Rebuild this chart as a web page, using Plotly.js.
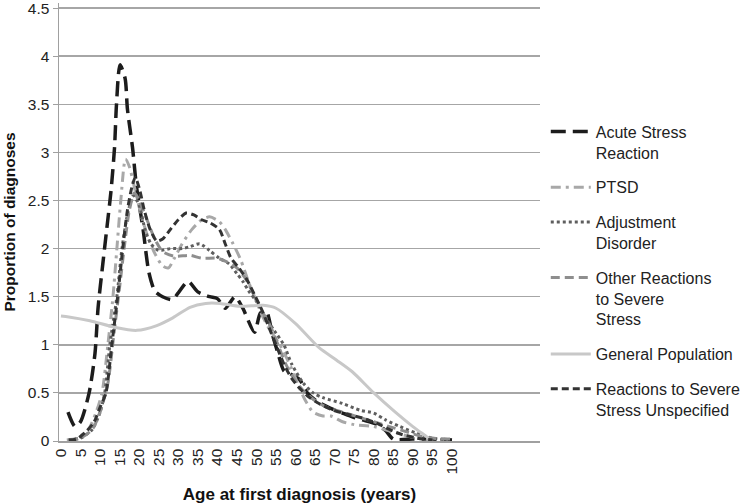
<!DOCTYPE html>
<html>
<head>
<meta charset="utf-8">
<script src="https://cdn.plot.ly/plotly-3.0.1.min.js"></script>
<style>
  html, body { margin: 0; padding: 0; background: #fff; }
  #chart { width: 750px; height: 504px; }
</style>
</head>
<body>
<div id="chart"></div>
<script>
// Age at first diagnosis (years) and proportion of diagnoses

const acuteAge = [1.8, 3.6, 5, 7.2, 8.7, 9.5, 10.7, 11.7, 12.8, 13.7, 14.2, 15.1, 16.4, 17, 18.3, 19.3, 21, 22.5, 24, 26, 28.5, 30, 32.5, 35, 38, 40, 42, 44.5, 46.5, 49.5, 51, 52.5, 54, 55.5, 57, 58.5, 61, 63, 65.5, 69, 72, 74.5, 77, 81, 83, 85, 90, 95, 100];
const acuteVal = [0.3, 0.15, 0.2, 0.5, 0.91, 1.39, 1.84, 2.2, 2.6, 3.05, 3.5, 3.91, 3.77, 3.45, 3.05, 2.65, 2.2, 1.75, 1.56, 1.5, 1.47, 1.54, 1.66, 1.55, 1.5, 1.48, 1.38, 1.5, 1.38, 1.13, 1.33, 1.35, 1.12, 0.91, 0.73, 0.7, 0.64, 0.5, 0.41, 0.34, 0.29, 0.25, 0.22, 0.17, 0.11, 0.02, 0.02, 0.02, 0.01];

const ptsdAge = [1.5, 4, 7, 9, 10.5, 12, 13.3, 14.3, 15.3, 16.5, 17.5, 19, 20.5, 22, 24, 26, 27.5, 29, 31, 33.5, 36, 38, 40.5, 42, 44, 46, 48, 50, 51.5, 53.5, 56, 59, 61, 62.5, 64.5, 67, 69, 72, 75, 80, 86, 91, 95];
const ptsdVal = [0.01, 0.03, 0.12, 0.3, 0.5, 1.0, 1.5, 2.0, 2.5, 2.93, 2.85, 2.6, 2.35, 2.15, 1.95, 1.82, 1.8, 1.9, 2.05, 2.2, 2.3, 2.33, 2.28, 2.2, 2.05, 1.88, 1.65, 1.45, 1.3, 1.15, 1.0, 0.75, 0.55, 0.42, 0.3, 0.26, 0.26, 0.2, 0.17, 0.15, 0.08, 0.03, 0.01];

const adjustAge = [2, 5, 8, 10, 11.2, 12.5, 14.3, 15.6, 17, 18.5, 20, 21.5, 23, 25, 28, 31, 33, 35.5, 38, 40.5, 43, 45, 46.5, 48, 50, 52, 54.5, 57, 59, 62, 64.5, 67, 72, 76.5, 80, 83, 86.7, 91, 95, 99];
const adjustVal = [0.01, 0.03, 0.12, 0.3, 0.5, 1.0, 1.5, 2.0, 2.35, 2.55, 2.45, 2.2, 2.05, 1.98, 2.0, 2.0, 2.02, 2.05, 1.98, 1.9, 1.84, 1.74, 1.66, 1.56, 1.45, 1.3, 1.15, 1.0, 0.8, 0.6, 0.5, 0.45, 0.39, 0.32, 0.29, 0.22, 0.15, 0.08, 0.03, 0.01];

const otherAge = [2, 5, 8, 10, 12, 13.5, 15, 16.3, 17.5, 18.8, 20, 22, 24, 26, 29, 33, 36, 40, 42, 45, 47, 49, 51, 53.5, 55.5, 57.5, 60, 62.5, 65, 68, 72, 76, 80, 84, 88, 92, 95, 100];
const otherVal = [0.01, 0.03, 0.12, 0.3, 0.6, 1.1, 1.6, 2.05, 2.4, 2.58, 2.5, 2.3, 2.1, 1.97, 1.92, 1.93, 1.9, 1.9, 1.87, 1.8, 1.7, 1.55, 1.38, 1.2, 1.0, 0.8, 0.62, 0.5, 0.42, 0.35, 0.3, 0.25, 0.2, 0.15, 0.1, 0.05, 0.03, 0.02];

const generalAge = [0, 2, 7.4, 14, 19.4, 24.5, 28.6, 33, 37, 40.7, 45.8, 51.7, 55, 60, 66, 70.5, 74.5, 80, 85.5, 90, 93, 94];
const generalVal = [1.3, 1.29, 1.25, 1.18, 1.15, 1.2, 1.28, 1.39, 1.43, 1.43, 1.4, 1.41, 1.38, 1.22, 0.97, 0.84, 0.72, 0.5, 0.3, 0.15, 0.06, 0.03];

const unspecAge = [2, 4, 6.5, 8.5, 10, 11.5, 13, 14.5, 15.8, 17, 18.2, 19, 20.2, 21.3, 22.8, 24.5, 26, 28, 30, 32, 34, 36, 38, 40.5, 42, 43.5, 45.5, 47.5, 49.5, 51.5, 53.5, 55.5, 57, 59, 61, 63, 65.5, 69, 73, 77, 81, 84, 87, 91, 95];
const unspecVal = [0.01, 0.02, 0.1, 0.2, 0.35, 0.5, 1.0, 1.5, 2.0, 2.4, 2.65, 2.74, 2.6, 2.4, 2.2, 2.08, 2.1, 2.2, 2.3, 2.37, 2.35, 2.3, 2.27, 2.2, 2.05, 1.9, 1.8, 1.68, 1.52, 1.35, 1.15, 0.95, 0.8, 0.65, 0.55, 0.47, 0.4, 0.33, 0.28, 0.24, 0.18, 0.12, 0.07, 0.03, 0.01];

const xTicks = [0, 5, 10, 15, 20, 25, 30, 35, 40, 45, 50, 55, 60, 65, 70, 75, 80, 85, 90, 95, 100];
const yTicks = [0, 0.5, 1, 1.5, 2, 2.5, 3, 3.5, 4, 4.5];

const FONT = '"Liberation Sans", Arial, sans-serif';

function series(name, x, y, color, dash, width) {
    return {
        type: 'scatter',
        mode: 'lines',
        name,
        x,
        y,
        line: { color, dash, width, shape: 'spline', smoothing: 0.7 },
        legendgroup: name,
        hoverinfo: 'skip'
    };
}

const traces = [
    series('Acute Stress<br>Reaction', acuteAge, acuteVal, '#1c1c1c', '15px,7px', 3.5),
    series('PTSD', ptsdAge, ptsdVal, '#a8a8a8', '10px,5px,3px,5px', 3),
    series('Adjustment<br>Disorder', adjustAge, adjustVal, '#5e5e5e', '3px,3px', 3),
    series('Other Reactions<br>to Severe<br>Stress', otherAge, otherVal, '#8e8e8e', '9px,5px', 3),
    series('General Population', generalAge, generalVal, '#c8c8c8', 'solid', 3),
    series('Reactions to Severe<br>Stress Unspecified', unspecAge, unspecVal, '#333333', '7px,4px', 3)
];

const layout = {
    width: 750,
    height: 504,
    paper_bgcolor: '#fff',
    plot_bgcolor: '#fff',
    font: { family: FONT, size: 15, color: '#222' },
    margin: { l: 59, r: 210, t: 3, b: 63 },
    showlegend: true,
    legend: {
        x: 1.012,
        xanchor: 'left',
        y: 0.745,
        yanchor: 'top',
        valign: 'top',
        itemwidth: 40,
        tracegroupgap: 11,
        font: { family: FONT, size: 16, color: '#222' },
        bgcolor: 'rgba(0,0,0,0)'
    },
    xaxis: {
        range: [-0.5, 122.5],
        tickmode: 'array',
        tickvals: xTicks,
        ticktext: xTicks.map(String),
        tickangle: -90,
        tickfont: { family: FONT, size: 15.5, color: '#222' },
        showgrid: false,
        zeroline: false,
        showline: true,
        linecolor: '#a0a0a0',
        linewidth: 1.5,
        ticks: '',
        title: { text: '<b>Age at first diagnosis (years)</b>', font: { family: FONT, size: 17, color: '#111' }, standoff: 14 }
    },
    yaxis: {
        range: [0, 4.553],
        tickmode: 'array',
        tickvals: yTicks,
        ticktext: yTicks.map(String),
        ticklabeloverflow: 'allow',
        showgrid: true,
        gridcolor: '#a6a6a6',
        gridwidth: 1.5,
        zeroline: false,
        showline: true,
        linecolor: '#a0a0a0',
        linewidth: 1.5,
        ticks: 'outside',
        ticklen: 5,
        tickcolor: '#a0a0a0',
        tickfont: { family: FONT, size: 15.5, color: '#222' },
        title: { text: '<b>Proportion of diagnoses</b>', font: { family: FONT, size: 15.5, color: '#111' }, standoff: 8 }
    }
};

Plotly.newPlot('chart', traces, layout, { displayModeBar: false, staticPlot: true });
</script>
</body>
</html>
